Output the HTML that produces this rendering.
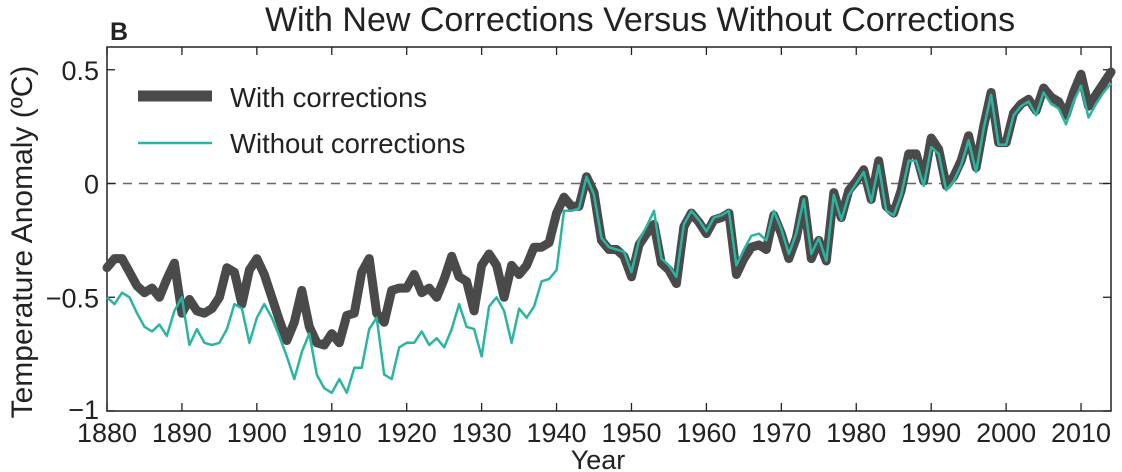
<!DOCTYPE html>
<html><head><meta charset="utf-8">
<style>
body{margin:0;background:#fff;}
svg{display:block;font-family:"Liberation Sans",Arial,sans-serif;}
</style></head>
<body>
<svg id="chart" width="1122" height="472" viewBox="0 0 1122 472">
<text x="640" y="31" font-size="34" text-anchor="middle" fill="#222">With New Corrections Versus Without Corrections</text>
<text x="110" y="40" font-size="25" font-weight="bold" fill="#222">B</text>
<text transform="translate(32,242) rotate(-90)" font-size="30" text-anchor="middle" fill="#222">Temperature Anomaly (ºC)</text>
<text x="598" y="469" font-size="27" text-anchor="middle" fill="#222">Year</text>
<g id="axes"></g>
<g id="series"></g>
<g>
<line x1="138" y1="96" x2="212" y2="96" stroke="#4a4a4a" stroke-width="11"/>
<text x="230" y="107" font-size="27.5" fill="#222">With corrections</text>
<line x1="138" y1="143" x2="212" y2="143" stroke="#2bb5a0" stroke-width="2.5"/>
<text x="230" y="153" font-size="27.5" fill="#222">Without corrections</text>
</g>
</svg>
<script>
const startYear = 1880;
const withCorr = [-0.37,-0.33,-0.33,-0.39,-0.45,-0.48,-0.46,-0.5,-0.42,-0.35,
-0.57,-0.51,-0.56,-0.57,-0.55,-0.5,-0.37,-0.39,-0.53,-0.38,
-0.33,-0.4,-0.5,-0.6,-0.69,-0.61,-0.47,-0.63,-0.7,-0.71,
-0.66,-0.7,-0.58,-0.57,-0.39,-0.33,-0.57,-0.61,-0.47,-0.46,
-0.46,-0.4,-0.48,-0.46,-0.5,-0.42,-0.32,-0.41,-0.43,-0.56,
-0.36,-0.31,-0.36,-0.5,-0.36,-0.4,-0.36,-0.28,-0.28,-0.26,
-0.13,-0.06,-0.1,-0.1,0.03,-0.04,-0.25,-0.29,-0.29,-0.32,
-0.41,-0.27,-0.22,-0.18,-0.35,-0.38,-0.44,-0.19,-0.13,-0.17,
-0.22,-0.16,-0.15,-0.13,-0.4,-0.33,-0.28,-0.27,-0.29,-0.14,
-0.22,-0.33,-0.24,-0.07,-0.33,-0.25,-0.34,-0.04,-0.15,-0.03,
0.01,0.06,-0.07,0.1,-0.1,-0.13,-0.03,0.13,0.13,0.01,
0.2,0.15,-0.01,0.03,0.1,0.21,0.07,0.25,0.4,0.18,
0.18,0.31,0.35,0.37,0.32,0.42,0.38,0.36,0.3,0.4,
0.48,0.34,0.39,0.44,0.49];
const withoutCorr = [-0.5,-0.53,-0.48,-0.5,-0.57,-0.63,-0.65,-0.62,-0.67,-0.56,
-0.5,-0.71,-0.64,-0.7,-0.71,-0.7,-0.64,-0.53,-0.55,-0.7,
-0.59,-0.53,-0.59,-0.67,-0.76,-0.86,-0.74,-0.66,-0.84,-0.9,
-0.92,-0.86,-0.92,-0.81,-0.81,-0.64,-0.59,-0.84,-0.86,-0.72,
-0.7,-0.7,-0.65,-0.71,-0.68,-0.72,-0.64,-0.53,-0.63,-0.64,
-0.76,-0.54,-0.5,-0.56,-0.7,-0.55,-0.59,-0.54,-0.43,-0.42,
-0.38,-0.12,-0.12,-0.11,0.03,-0.05,-0.24,-0.28,-0.29,-0.3,
-0.39,-0.25,-0.19,-0.12,-0.33,-0.36,-0.41,-0.18,-0.12,-0.16,
-0.21,-0.15,-0.14,-0.12,-0.36,-0.29,-0.23,-0.22,-0.25,-0.12,
-0.2,-0.31,-0.22,-0.07,-0.31,-0.24,-0.34,-0.05,-0.16,-0.05,
0.0,0.05,-0.08,0.08,-0.12,-0.14,-0.05,0.1,0.1,-0.01,
0.16,0.13,-0.03,0.01,0.08,0.19,0.05,0.24,0.39,0.17,
0.17,0.3,0.34,0.36,0.3,0.4,0.35,0.33,0.26,0.36,
0.43,0.29,0.35,0.4,0.44];
const xTicks = [1880,1890,1900,1910,1920,1930,1940,1950,1960,1970,1980,1990,2000,2010];
const yTicks = [0.5,0,-0.5,-1];
const yTickLabels = ["0.5","0","−0.5","−1"];

const L=107,R=1111,T=47,B=411,yMin=-1.0,yMax=0.6;
const x = yr => L + (yr-1880)*(R-L)/(2014-1880);
const y = v => B - (v-yMin)*(B-T)/(yMax-yMin);
const NS="http://www.w3.org/2000/svg";
function mk(tag, attrs, parent){const e=document.createElementNS(NS,tag);for(const k in attrs)e.setAttribute(k,attrs[k]);parent.appendChild(e);return e;}
const axes=document.getElementById('axes');
const zl=mk('line',{x1:L,x2:R,y1:y(0),y2:y(0),stroke:'#666','stroke-width':1.6,'stroke-dasharray':'9,7'},axes);


const frame=mk('rect',{x:L,y:T,width:R-L,height:B-T,fill:'none',stroke:'#222','stroke-width':1.5},axes);


xTicks.forEach(t=>{
  const xx=x(t);
  mk('line',{x1:xx,x2:xx,y1:B,y2:B-8,stroke:'#222','stroke-width':1.3},axes);
  mk('line',{x1:xx,x2:xx,y1:T,y2:T+8,stroke:'#222','stroke-width':1.3},axes);
  const tx=mk('text',{x:xx,y:B+31,'font-size':27,'text-anchor':'middle',fill:'#222'},axes);
  tx.textContent=t;
  
  
});
yTicks.forEach((t,i)=>{
  const yy=y(t);
  mk('line',{x1:L,x2:L+8,y1:yy,y2:yy,stroke:'#222','stroke-width':1.3},axes);
  mk('line',{x1:R,x2:R-8,y1:yy,y2:yy,stroke:'#222','stroke-width':1.3},axes);
  const tx=mk('text',{x:L-8,y:yy+(t===-1?8:10),'font-size':27,'text-anchor':'end',fill:'#222'},axes);
  tx.textContent=yTickLabels[i];
  
  
});
const series=document.getElementById('series');
function pts(arr){return arr.map((v,i)=>x(startYear+i).toFixed(1)+','+y(v).toFixed(1)).join(' ');}
const p1=mk('polyline',{points:pts(withCorr),fill:'none',stroke:'#4a4a4a','stroke-width':9,'stroke-linejoin':'round','stroke-linecap':'round'},series);


const p2=mk('polyline',{points:pts(withoutCorr),fill:'none',stroke:'#2bb5a0','stroke-width':2.5,'stroke-linejoin':'round'},series);


</script>
</body></html>
